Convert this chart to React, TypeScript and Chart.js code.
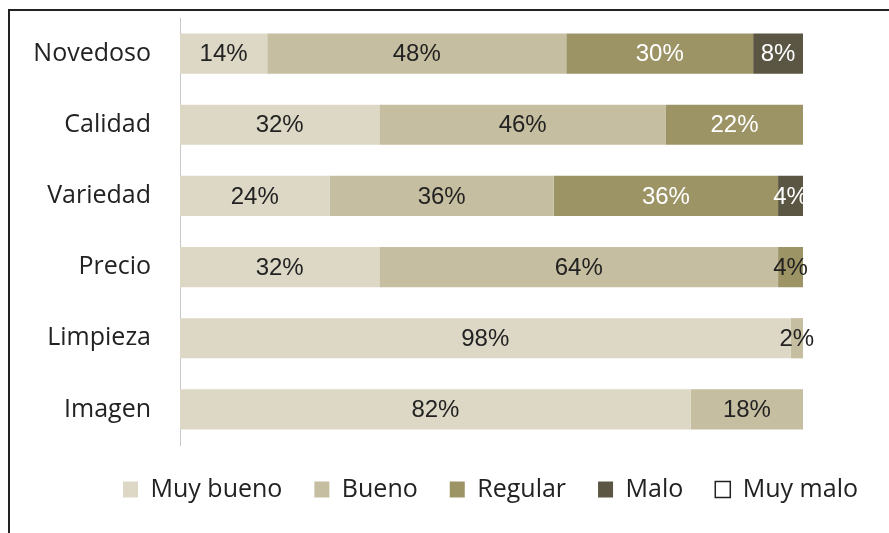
import React, { useEffect, useRef } from "react";
import { Chart, registerables } from "chart.js";

Chart.register(...registerables);

const categories = ["Novedoso", "Calidad", "Variedad", "Precio", "Limpieza", "Imagen"];
const seriesNames = ["Muy bueno", "Bueno", "Regular", "Malo", "Muy malo"];
const muyBueno = [14, 32, 24, 32, 98, 82];
const bueno = [48, 46, 36, 64, 2, 18];
const regular = [30, 22, 36, 4, 0, 0];
const malo = [8, 0, 4, 0, 0, 0];
const muyMalo = [0, 0, 0, 0, 0, 0];
const seriesColors = ["#DDD8C6", "#C6BEA0", "#9D9466", "#5A5643", "#FFFFFF"];
const LEGEND_SHIFT = 46;

const valueLabels = {
  id: "valueLabels",
  afterDatasetsDraw(chart: any) {
    const ctx = chart.ctx;
    ctx.save();
    ctx.font = '24px "Liberation Sans", Arial, sans-serif';
    ctx.textAlign = "center";
    ctx.textBaseline = "middle";
    chart.data.datasets.forEach((ds: any, di: number) => {
      const meta = chart.getDatasetMeta(di);
      meta.data.forEach((el: any, i: number) => {
        const v = ds.data[i];
        if (!v) return;
        let color = "#222222";
        if (di === 3 || (di === 2 && v >= 10)) color = "#FFFFFF";
        ctx.fillStyle = color;
        ctx.fillText(v + "%", (el.x + el.base) / 2, el.y + 1);
      });
    });
    ctx.restore();
  },
};

const legendShift = {
  id: "legendShift",
  afterLayout(chart: any) {
    const lg = chart.legend;
    if (lg) {
      lg.left += LEGEND_SHIFT;
      lg.right += LEGEND_SHIFT;
    }
  },
};

export default function App() {
  const ref = useRef<HTMLCanvasElement | null>(null);
  useEffect(() => {
    if (!ref.current) return;
    const values = [muyBueno, bueno, regular, malo, muyMalo];
    const chart = new Chart(ref.current, {
      type: "bar",
      data: {
        labels: categories,
        datasets: seriesNames.map((name, i) => ({
          label: name,
          data: values[i],
          backgroundColor: seriesColors[i],
          borderWidth: 0,
          barPercentage: 0.565,
          categoryPercentage: 1,
        })),
      },
      options: {
        indexAxis: "y",
        animation: false,
        responsive: false,
        devicePixelRatio: 1,
        layout: { padding: { top: 18, bottom: 21, left: 0, right: 0 } },
        scales: {
          x: {
            stacked: true,
            min: 0,
            max: 100,
            display: false,
          },
          y: {
            stacked: true,
            grid: {
              display: true,
              drawOnChartArea: false,
              drawTicks: true,
              tickLength: 29,
              color: "rgba(0,0,0,0)",
            },
            border: { display: true, color: "#C8C8C8", width: 1 },
            ticks: {
              color: "#222222",
              padding: 0,
              font: { family: '"Open Sans", sans-serif', size: 25 },
            },
            afterFit: (s: any) => {
              s.width = 180;
            },
          },
          yR: {
            axis: "y",
            type: "linear",
            position: "right",
            display: true,
            grid: { display: false, drawTicks: false },
            border: { display: false },
            ticks: { display: false },
            afterFit: (s: any) => {
              s.width = 86;
            },
          },
        },
        plugins: {
          tooltip: { enabled: false },
          legend: {
            position: "bottom",
            labels: {
              color: "#222222",
              boxWidth: 15,
              boxHeight: 16,
              padding: 32,
              font: { family: '"Open Sans", sans-serif', size: 25 },
              generateLabels: (c: any) =>
                c.data.datasets.map((ds: any, i: number) => ({
                  text: ds.label,
                  fillStyle: seriesColors[i],
                  strokeStyle: i === 4 ? "#222222" : seriesColors[i],
                  lineWidth: i === 4 ? 1.5 : 0,
                  hidden: false,
                  datasetIndex: i,
                  fontColor: "#222222",
                })),
            },
          },
        },
      },
      plugins: [valueLabels, legendShift],
    } as any);
    return () => chart.destroy();
  }, []);

  return (
    <div
      style={{
        position: "fixed",
        left: 0,
        top: 0,
        width: 889,
        height: 533,
        overflow: "hidden",
        background: "#FFFFFF",
      }}
    >
      <div
        style={{
          position: "absolute",
          left: 8,
          top: 9,
          width: 1200,
          height: 900,
          border: "2px solid #222222",
        }}
      />
      <canvas
        ref={ref}
        width={889}
        height={533}
        style={{ position: "absolute", left: 0, top: 0, width: 889, height: 533 }}
      />
    </div>
  );
}
